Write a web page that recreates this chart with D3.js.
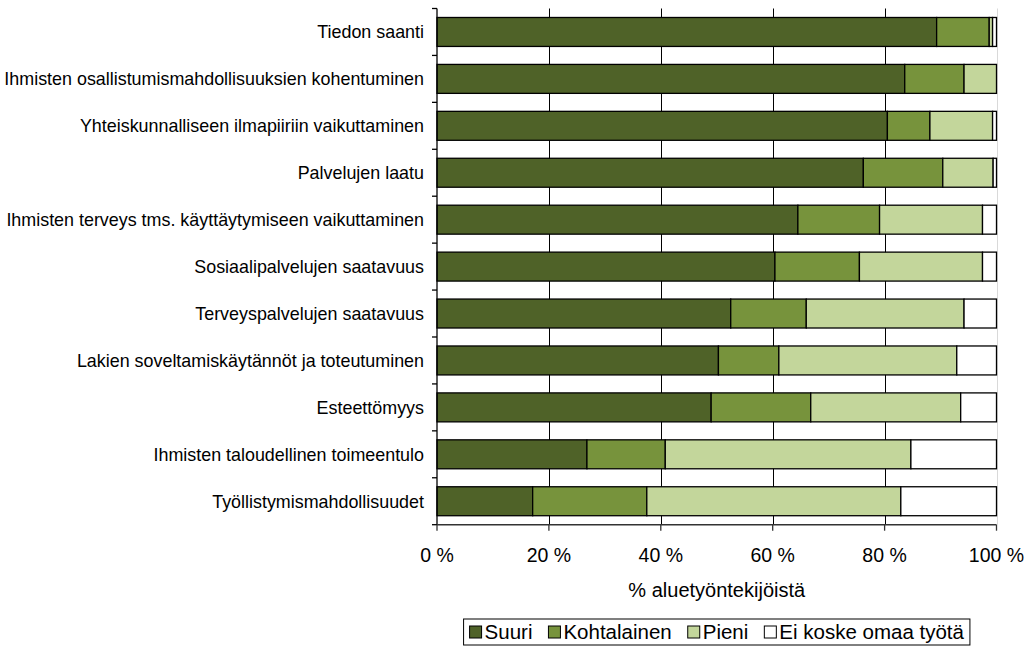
<!DOCTYPE html>
<html>
<head>
<meta charset="utf-8">
<script src="https://cdn.jsdelivr.net/npm/d3@7"></script>
<style>
  html, body { margin: 0; padding: 0; background: #fff; }
  svg { display: block; }
  text { font-family: "Liberation Sans", Arial, sans-serif; fill: #000; }
</style>
</head>
<body>
<svg id="chart" width="1029" height="648"></svg>
<script>
const categories = [
  "Tiedon saanti",
  "Ihmisten osallistumismahdollisuuksien kohentuminen",
  "Yhteiskunnalliseen ilmapiiriin vaikuttaminen",
  "Palvelujen laatu",
  "Ihmisten terveys tms. käyttäytymiseen vaikuttaminen",
  "Sosiaalipalvelujen saatavuus",
  "Terveyspalvelujen saatavuus",
  "Lakien soveltamiskäytännöt ja toteutuminen",
  "Esteettömyys",
  "Ihmisten taloudellinen toimeentulo",
  "Työllistymismahdollisuudet"
];
const seriesNames = ["Suuri", "Kohtalainen", "Pieni", "Ei koske omaa työtä"];
const suuri       = [89.3, 83.6, 80.5, 76.2, 64.5, 60.4, 52.5, 50.3, 49.0, 26.8, 17.1];
const kohtalainen = [ 9.4, 10.6,  7.6, 14.2, 14.6, 15.1, 13.5, 10.8, 17.8, 14.0, 20.4];
const pieni       = [ 0.6,  5.8, 11.2,  9.0, 18.4, 22.0, 28.2, 31.8, 26.8, 43.9, 45.4];
const eiKoske     = [ 0.7,  0.0,  0.7,  0.6,  2.5,  2.5,  5.8,  7.1,  6.4, 15.3, 17.1];
const xTicks = [0, 20, 40, 60, 80, 100];
const xTickLabels = ["0 %", "20 %", "40 %", "60 %", "80 %", "100 %"];
const xTitle = "% aluetyöntekijöistä";
const colors = ["#4F6228", "#77933C", "#C3D69B", "#FFFFFF"];

const seriesValues = [suuri, kohtalainen, pieni, eiKoske];
const rows = categories.map((c, i) => {
  const r = { cat: c };
  seriesNames.forEach((s, k) => r[s] = seriesValues[k][i]);
  return r;
});
const stacked = d3.stack().keys(seriesNames)(rows);

const svg = d3.select("#chart");
const X0 = 437, X1 = 996.5, Y0 = 8.5, Y1 = 524.7;
const x = d3.scaleLinear().domain([0, 100]).range([X0, X1]);
const y = d3.scaleBand().domain(categories).range([Y0, Y1]).paddingInner(0.383).paddingOuter(0.1915);
const color = d3.scaleOrdinal().domain(seriesNames).range(colors);

// gridlines
svg.append("g").selectAll("line").data(xTicks.filter(t => t > 0)).join("line")
  .attr("x1", d => Math.round(x(d)) + 0.5).attr("x2", d => Math.round(x(d)) + 0.5)
  .attr("y1", Y0).attr("y2", Y1)
  .attr("stroke", d => d === 100 ? "#d9d9d9" : "#000")
  .attr("stroke-width", 1);

// bars
svg.append("g").selectAll("g").data(stacked).join("g")
  .attr("fill", d => color(d.key))
  .selectAll("rect").data(d => d).join("rect")
  .attr("x", d => x(d[0]))
  .attr("width", d => Math.max(0, x(d[1]) - x(d[0])))
  .attr("y", d => y(d.data.cat))
  .attr("height", y.bandwidth())
  .attr("stroke", "#000")
  .attr("stroke-width", 1.3)
  .attr("display", d => (d[1] - d[0]) > 0 ? null : "none");

// left axis
const step = y.step();
const boundaries = d3.range(categories.length + 1).map(i => Y0 + i * step);
const gl = svg.append("g");
gl.append("line").attr("x1", X0).attr("x2", X0).attr("y1", Y0).attr("y2", Y1)
  .attr("stroke", "#000").attr("stroke-width", 1.3);
gl.selectAll("line.tk").data(boundaries).join("line").attr("class", "tk")
  .attr("x1", X0 - 5).attr("x2", X0).attr("y1", d => d).attr("y2", d => d)
  .attr("stroke", "#000").attr("stroke-width", 1.3);
gl.selectAll("text").data(categories).join("text")
  .attr("x", 424).attr("y", d => y(d) + y.bandwidth() / 2)
  .attr("dy", "0.35em").attr("text-anchor", "end")
  .style("font-size", "17.9px").text(d => d);

// bottom axis
const gb = svg.append("g");
gb.append("line").attr("x1", X0).attr("x2", X1).attr("y1", Y1).attr("y2", Y1)
  .attr("stroke", "#333").attr("stroke-width", 1.5);
gb.selectAll("line.tk").data(xTicks).join("line").attr("class", "tk")
  .attr("x1", d => x(d)).attr("x2", d => x(d)).attr("y1", Y1).attr("y2", Y1 + 6)
  .attr("stroke", "#333").attr("stroke-width", 1.3);
gb.selectAll("text").data(xTicks).join("text")
  .attr("x", d => x(d)).attr("y", 562).attr("text-anchor", "middle")
  .style("font-size", "19.5px").text((d, i) => xTickLabels[i]);
svg.append("text").attr("x", (X0 + X1) / 2).attr("y", 597).attr("text-anchor", "middle")
  .style("font-size", "20px").text(xTitle);

// legend
const lg = svg.append("g");
const items = lg.selectAll("g").data(seriesNames).join("g");
items.append("rect").attr("width", 12).attr("height", 12).attr("y", -13)
  .attr("fill", d => color(d)).attr("stroke", "#000").attr("stroke-width", 1);
items.append("text").attr("x", 15).attr("y", 0).style("font-size", "20.5px").text(d => d);
const gap = 16;
let cx = 0;
items.each(function () {
  const g = d3.select(this);
  g.attr("transform", `translate(${cx},0)`);
  cx += 15 + g.select("text").node().getComputedTextLength() + gap;
});
const totalW = cx - gap;
const boxW = totalW + 12;
const boxX = (X0 + X1) / 2 - boxW / 2;
lg.insert("rect", ":first-child").attr("x", -6).attr("y", -20).attr("width", boxW).attr("height", 26)
  .attr("fill", "#fff").attr("stroke", "#000").attr("stroke-width", 1);
lg.attr("transform", `translate(${boxX + 6},639)`);
</script>
</body>
</html>
